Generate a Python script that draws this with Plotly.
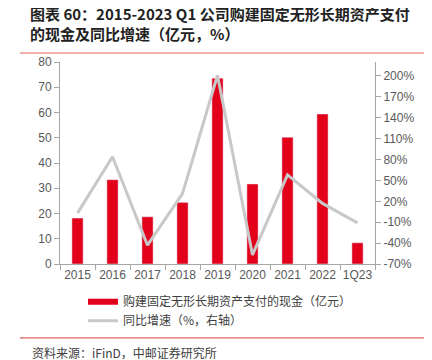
import plotly.graph_objects as go

categories = ["2015", "2016", "2017", "2018", "2019", "2020", "2021", "2022", "1Q23"]
cash_paid = [18.2, 33.4, 18.7, 24.4, 73.6, 31.7, 50.2, 59.4, 8.4]
yoy_growth = [3, 84, -43, 31, 201, -57, 58, 17, -11]
left_ticks = [0, 10, 20, 30, 40, 50, 60, 70, 80]
right_ticks = [-70, -40, -10, 20, 50, 80, 110, 140, 170, 200]
right_labels = ["-70%", "-40%", "-10%", "20%", "50%", "80%", "110%", "140%", "170%", "200%"]

bar_name = "购建固定无形长期资产支付的现金（亿元）"
line_name = "同比增速（%，右轴）"
title_l1 = "图表 60：2015-2023 Q1 公司购建固定无形长期资产支付"
title_l2 = "的现金及同比增速（亿元，%）"
source = "资料来源：iFinD，中邮证券研究所"

RED = "#e3001b"
GREY = "#c8c8c8"
AX = "#a6a6a6"
TXT = "#595959"
FONT = "Liberation Sans, Arial, Noto Sans CJK SC"

fig = go.Figure()
fig.add_trace(go.Bar(x=categories, y=cash_paid, marker_color=RED, width=0.32,
                     name=bar_name, showlegend=False))
fig.add_trace(go.Scatter(x=categories, y=yoy_growth, mode="lines", yaxis="y2",
                         line=dict(color=GREY, width=3), name=line_name, showlegend=False))
# legend entries
fig.add_trace(go.Scatter(x=[None], y=[None], mode="lines", line=dict(color=RED, width=6),
                         name=bar_name))
fig.add_trace(go.Scatter(x=[None], y=[None], mode="lines", line=dict(color=GREY, width=3),
                         name=line_name))

fig.update_layout(
    width=432, height=360,
    margin=dict(l=52, r=65, t=54, b=104, autoexpand=False),
    paper_bgcolor="white", plot_bgcolor="white",
    font=dict(family=FONT, size=12, color=TXT),
    bargap=0.5,
    title=dict(text="<b>" + title_l1 + "<br>" + title_l2 + "</b>",
               xref="container", yref="container", x=22 / 432, y=1 - 12 / 360,
               xanchor="left", yanchor="top",
               font=dict(size=15, color="#222222", family="Noto Sans CJK SC")),
    xaxis=dict(type="category", showgrid=False, showline=True, linecolor=AX, linewidth=1,
               ticks="outside", tickcolor=AX, ticklen=5, tickson="boundaries",
               tickangle=0, automargin=False,
               tickfont=dict(size=12, color=TXT), range=[-0.5, 8.5]),
    yaxis=dict(range=[0, 80], tickvals=left_ticks, showgrid=False, showline=True,
               linecolor=AX, linewidth=1, ticks="outside", tickcolor=AX, ticklen=5,
               automargin=False, tickfont=dict(size=12, color=TXT), zeroline=False),
    yaxis2=dict(range=[-70, 220], tickvals=right_ticks, ticktext=right_labels, overlaying="y",
                side="right", showgrid=False, showline=True, linecolor=AX, linewidth=1,
                ticks="outside", tickcolor=AX, ticklen=5, automargin=False,
                tickfont=dict(size=12, color=TXT), zeroline=False),
    legend=dict(orientation="v", x=0.073, xanchor="left", y=-0.115, yanchor="top",
                font=dict(size=12, color="#404040", family="Noto Sans CJK SC"),
                itemwidth=30, tracegroupgap=2, bgcolor="rgba(0,0,0,0)"),
    annotations=[
        dict(text=source, xref="paper", yref="paper", x=-0.095, y=0, yshift=-88,
             xanchor="left", yanchor="middle", showarrow=False,
             font=dict(size=12, color="#404040", family="Noto Sans CJK SC")),
    ],
    shapes=[
        dict(type="line", xref="paper", yref="paper", x0=-0.127, x1=1.18, y0=1.0446, y1=1.0446,
             line=dict(color="#e06060", width=1.2)),
        dict(type="line", xref="paper", yref="paper", x0=-0.127, x1=1.18, y0=-0.366, y1=-0.366,
             line=dict(color="#e06060", width=1.2)),
    ],
)

fig.write_html("out.html")
